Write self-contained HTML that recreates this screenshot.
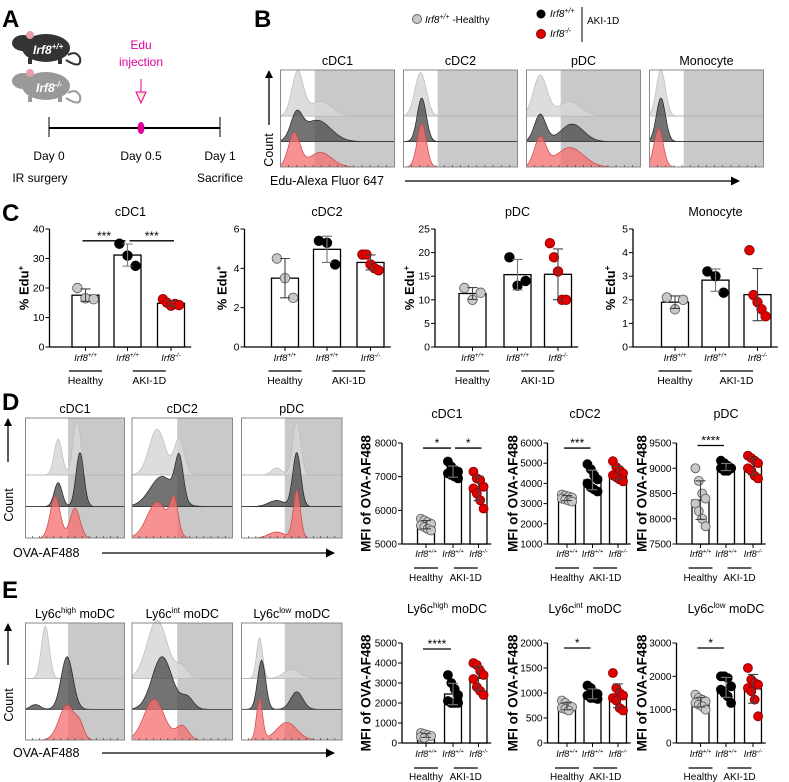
<!DOCTYPE html>
<html><head><meta charset="utf-8"><style>
html,body{margin:0;padding:0;background:#fff;}
svg{display:block;font-family:"Liberation Sans",Arial,sans-serif;}
</style></head><body>
<svg id="fig" width="789" height="782" viewBox="0 0 789 782" xmlns="http://www.w3.org/2000/svg">
<text x="2" y="27" font-size="24" font-weight="bold">A</text>
<text x="254" y="27" font-size="24" font-weight="bold">B</text>
<text x="2" y="221" font-size="24" font-weight="bold">C</text>
<text x="2" y="410" font-size="24" font-weight="bold">D</text>
<text x="2" y="598" font-size="24" font-weight="bold">E</text>

<g>
 <path d="M66,60 Q82,70 80,58 Q76,50 68,55" fill="none" stroke="#333" stroke-width="2"/>
 <ellipse cx="46" cy="48" rx="24" ry="14" fill="#333"/>
 <ellipse cx="23" cy="43" rx="11" ry="8" fill="#333"/>
 <ellipse cx="30" cy="35" rx="4" ry="4" fill="#e8a0a8"/>
 <rect x="28" y="58" width="4" height="6" fill="#333"/><rect x="58" y="58" width="4" height="6" fill="#333"/>
 <text x="33" y="54" font-size="12" fill="#fff" font-style="italic" font-weight="bold">Irf8<tspan font-size="8" dy="-5">+/+</tspan></text>
</g>
<g>
 <path d="M66,98 Q82,108 80,96 Q76,88 68,93" fill="none" stroke="#999" stroke-width="2"/>
 <ellipse cx="46" cy="86" rx="24" ry="14" fill="#999"/>
 <ellipse cx="23" cy="81" rx="11" ry="8" fill="#999"/>
 <ellipse cx="30" cy="73" rx="4" ry="4" fill="#e8a0a8"/>
 <rect x="28" y="96" width="4" height="6" fill="#999"/><rect x="58" y="96" width="4" height="6" fill="#999"/>
 <text x="36" y="92" font-size="12" fill="#fff" font-style="italic" font-weight="bold">Irf8<tspan font-size="8" dy="-5">-/-</tspan></text>
</g>
<text x="141" y="49" font-size="12" fill="#e0009a" text-anchor="middle">Edu</text>
<text x="141" y="66" font-size="12" fill="#e0009a" text-anchor="middle">injection</text>
<g>
 <line x1="141" y1="79" x2="141" y2="92" stroke="#e0009a" stroke-width="1"/>
 <polygon points="136,92 146,92 141,103" fill="#fde8d8" stroke="#e0009a" stroke-width="1"/>
</g>
<g>
 <line x1="49" y1="128" x2="220" y2="128" stroke="#000" stroke-width="2"/>
 <line x1="49" y1="117" x2="49" y2="137" stroke="#000" stroke-width="1"/>
 <line x1="220" y1="117" x2="220" y2="137" stroke="#000" stroke-width="1"/>
 <ellipse cx="141" cy="128" rx="3.5" ry="6" fill="#e0009a"/>
</g>
<text x="49" y="160" font-size="12" text-anchor="middle">Day 0</text>
<text x="141" y="160" font-size="12" text-anchor="middle">Day 0.5</text>
<text x="220" y="160" font-size="12" text-anchor="middle">Day 1</text>
<text x="40" y="182" font-size="12" text-anchor="middle">IR surgery</text>
<text x="220" y="182" font-size="12" text-anchor="middle">Sacrifice</text>

<g>
 <circle cx="417" cy="19" r="4.5" fill="#c8c8c8" stroke="#666"/>
 <text x="425" y="23" font-size="10"><tspan font-style="italic">Irf8<tspan font-size="7" dy="-4">+/+</tspan></tspan><tspan dy="4"> -Healthy</tspan></text>
 <circle cx="541" cy="14" r="4.5" fill="#000"/>
 <text x="550" y="17" font-size="10" font-style="italic">Irf8<tspan font-size="7" dy="-4">+/+</tspan></text>
 <circle cx="541" cy="34" r="4.5" fill="#e00000" stroke="#800"/>
 <text x="550" y="37" font-size="10" font-style="italic">Irf8<tspan font-size="7" dy="-4">-/-</tspan></text>
 <line x1="582" y1="7" x2="582" y2="42" stroke="#000"/>
 <text x="587" y="24" font-size="10">AKI-1D</text>
</g>
<g id="hists"></g>
<g id="bars"></g>
</svg>
<script>
var NS="http://www.w3.org/2000/svg";
var svg=document.getElementById('fig');
var HG=document.getElementById('hists'), BG=document.getElementById('bars');
var S=1.5;
function el(tag,attrs,parent,txt){var e=document.createElementNS(NS,tag);for(var k in attrs)e.setAttribute(k,attrs[k]);if(txt!=null)e.textContent=txt;(parent||svg).appendChild(e);return e;}

/* ---------------- Bar chart data ---------------- */
var groupNames=["Irf8+/+ Healthy","Irf8+/+ AKI-1D","Irf8-/- AKI-1D"];
var cCDC1H=[20,16.5,16.2], cCDC1W=[35,31,27.5], cCDC1K=[16.2,15,14,14.6,14.2];
var cCDC2H=[4.5,3.5,2.5], cCDC2W=[5.4,5.3,4.2], cCDC2K=[4.7,4.7,4.2,4.0,3.9];
var cPDCH=[12.5,10,11.5], cPDCW=[19,13,14], cPDCK=[22,19,16,10,10];
var cMonoH=[2.1,1.6,2.0], cMonoW=[3.2,3.0,2.3], cMonoK=[4.1,2.2,1.9,1.6,1.3];
var dCDC1H=[5750,5700,5650,5600,5550,5500,5450,5400], dCDC1W=[7450,7300,7200,7150,7100,7050,7000,6950], dCDC1K=[7150,6950,6900,6700,6650,6500,6300,6050];
var dCDC2H=[3450,3400,3350,3300,3250,3200,3150,3100], dCDC2W=[4950,4700,4400,4200,4000,3800,3700,3600], dCDC2K=[5100,4800,4650,4500,4400,4300,4200,4100];
var dPDCH=[9000,8750,8500,8400,8300,8150,8000,7850], dPDCW=[9150,9100,9050,9000,9000,8950,8950,9000], dPDCK=[9250,9200,9150,9100,9000,8950,8850,8800];
var eHighH=[500,450,400,350,300,250], eHighW=[3400,3000,2700,2400,2100,2000,2000,2000], eHighK=[4000,3900,3600,3400,3200,2800,2600,2400];
var eIntH=[850,800,750,720,700,680,650], eIntW=[1150,1100,1000,980,950,900,900,880], eIntK=[1400,1100,1000,950,900,850,700,650];
var eLowH=[1450,1350,1300,1250,1200,1150,1100,1000], eLowW=[2000,2000,1950,1700,1600,1500,1400,1200], eLowK=[2250,1900,1800,1750,1650,1550,1300,800];
var ticksC1=[0,10,20,30,40], ticksC2=[0,2,4,6], ticksC3=[0,5,10,15,20,25], ticksC4=[0,1,2,3,4,5];
var ticksD1=[5000,6000,7000,8000], ticksD2=[1000,2000,3000,4000,5000,6000], ticksD3=[7500,8000,8500,9000,9500];
var ticksE1=[0,1000,2000,3000,4000,5000], ticksE2=[0,500,1000,1500,2000], ticksE3=[0,1000,2000,3000];

var FILLS=["#c8c8c8","#000","#e00000"], STROKES=["#555","#000","#800"];
function mean(a){var s=0;a.forEach(function(v){s+=v});return s/a.length;}
function sd(a){var m=mean(a),s=0;a.forEach(function(v){s+=(v-m)*(v-m)});return Math.sqrt(s/(a.length-1));}

function irfLabel(g,x,y,sup,fs){
 var t=el('text',{x:x,y:y,'font-size':fs,'font-style':'italic','text-anchor':'middle'},g);
 
 
 el('tspan',{},t,'Irf8');el('tspan',{'font-size':fs*0.65,dy:-4},t,sup);
}

function barChart(c){
 c.ax*=S;c.cx=c.cx.map(function(v){return v*S;});c.bw*=S;c.titleX*=S;c.ylx*=S;c.ul*=S;
 var g=el('g',{},BG);
 
 
 var y=function(v){return c.bot-(v-c.min)/(c.max-c.min)*(c.bot-c.top);};
 el('line',{x1:c.ax,y1:c.top,x2:c.ax,y2:c.bot,stroke:'#000','stroke-width':1.3},g);
 el('line',{x1:c.ax,y1:c.bot,x2:c.cx[2]+c.bw*0.75,y2:c.bot,stroke:'#000','stroke-width':1.3},g);
 c.cx.forEach(function(cx){el('line',{x1:cx,y1:c.bot,x2:cx,y2:c.bot+4,stroke:'#000'},g);});
 c.ticks.forEach(function(t){
  el('line',{x1:c.ax-4,y1:y(t),x2:c.ax,y2:y(t),stroke:'#000'},g);
  var tl=el('text',{x:c.ax-5,y:y(t)+3.5,'font-size':c.tfs,'text-anchor':'end'},g,String(t));
  
  
 });
 var ti=el('text',{x:c.titleX,y:c.titleY,'font-size':12.5,'text-anchor':'middle'},g);
 
 
 el('tspan',{},ti,c.title[0]); if(c.title[1]){el('tspan',{'font-size':8,dy:-5},ti,c.title[1]);el('tspan',{dy:5},ti,c.title[2]);}
 var yl=el('text',{transform:'translate('+c.ylx+','+((c.top+c.bot)/2)+') rotate(-90)','font-size':c.ylfs,'font-weight':'bold','text-anchor':'middle'},g);
 
 
 if(c.edu){el('tspan',{},yl,'% Edu');el('tspan',{'font-size':8,dy:-5},yl,'+');} else yl.textContent='MFI of OVA-AF488';
 c.series.forEach(function(arr,i){
  var m=mean(arr),s=sd(arr),cx=c.cx[i];
  var b=el('rect',{x:cx-c.bw/2,y:y(m),width:c.bw,height:c.bot-y(m),fill:'#fff',stroke:'#000','stroke-width':1.3},g);
  
  
  var n=arr.length;
  arr.forEach(function(v,j){
   var off=n>1?(j/(n-1)-0.5)*c.bw*0.6:0;
   if(n>5) off=((j%4)/3-0.5)*c.bw*0.6;
   var p=el('circle',{cx:cx+off,cy:y(v),r:c.r,fill:FILLS[i],stroke:STROKES[i],'stroke-width':0.8},g);
   
   
  });
  var eb=el('path',{d:'M'+cx+','+y(m+s)+'V'+y(m-s)+'M'+(cx-5)+','+y(m+s)+'h10M'+(cx-5)+','+y(m-s)+'h10',stroke:i==1?'#777':'#444','stroke-width':1.1,fill:'none'},g);
  
  
 });
 var sups=['+/+','+/+','-/-'];
 c.cx.forEach(function(cx,i){irfLabel(g,cx,c.ly,sups[i],c.lfs);});
 el('line',{x1:c.cx[0]-c.ul,y1:c.uy,x2:c.cx[0]+c.ul,y2:c.uy,stroke:'#000','stroke-width':1.3},g);
 var mid=(c.cx[1]+c.cx[2])/2;
 el('line',{x1:mid-c.ul,y1:c.uy,x2:mid+c.ul,y2:c.uy,stroke:'#000','stroke-width':1.3},g);
 var h=el('text',{x:c.cx[0],y:c.gy,'font-size':c.lfs+1,'text-anchor':'middle'},g,'Healthy');
 
 
 var a=el('text',{x:mid,y:c.gy,'font-size':c.lfs+1,'text-anchor':'middle'},g,'AKI-1D');
 
 
 (c.sig||[]).forEach(function(sg){
  var x1=c.cx[sg[0]]-3,x2=c.cx[sg[1]]+3,yy=y(sg[2]);
  if(sg[0]>0)x1+=5; if(sg[1]<2)x2-=5;
  el('line',{x1:x1,y1:yy,x2:x2,y2:yy,stroke:'#000','stroke-width':1.3},g);
  var st=el('text',{x:(x1+x2)/2,y:yy-1,'font-size':12,'text-anchor':'middle'},g,sg[3]);
  
  
 });
}
var Cbase={top:229,bot:347,bw:18,r:4.8,tfs:10.5,ylfs:13,edu:true,ly:361,uy:371,gy:384,lfs:9.5,ul:11,titleY:216};
function ext(a,b){var o={};for(var k in a)o[k]=a[k];for(k in b)o[k]=b[k];return o;}
barChart(ext(Cbase,{name:'chart-c-cdc1',ax:33,cx:[57,85,114],min:0,max:40,ticks:ticksC1,series:[cCDC1H,cCDC1W,cCDC1K],title:['cDC1'],titleX:87,ylx:19,sig:[[0,1,36,'***'],[1,2,36,'***']]}));
barChart(ext(Cbase,{name:'chart-c-cdc2',ax:163,cx:[190,218,247],min:0,max:6,ticks:ticksC2,series:[cCDC2H,cCDC2W,cCDC2K],title:['cDC2'],titleX:218,ylx:151}));
barChart(ext(Cbase,{name:'chart-c-pdc',ax:290,cx:[315,345,372],min:0,max:25,ticks:ticksC3,series:[cPDCH,cPDCW,cPDCK],title:['pDC'],titleX:345,ylx:276}));
barChart(ext(Cbase,{name:'chart-c-monocyte',ax:422,cx:[450,477,505],min:0,max:5,ticks:ticksC4,series:[cMonoH,cMonoW,cMonoK],title:['Monocyte'],titleX:477,ylx:410}));
var Dbase={top:443,bot:544,bw:11.3,r:4.5,tfs:10,ylfs:13.5,edu:false,ly:557,uy:568,gy:581,lfs:9,ul:8,titleY:418};
barChart(ext(Dbase,{name:'chart-d-cdc1',ax:268,cx:[284,302,319],min:5000,max:8000,ticks:ticksD1,series:[dCDC1H,dCDC1W,dCDC1K],title:['cDC1'],titleX:298,ylx:247,sig:[[0,1,7850,'*'],[1,2,7850,'*']]}));
barChart(ext(Dbase,{name:'chart-d-cdc2',ax:365,cx:[378,395,412],min:1000,max:6000,ticks:ticksD2,series:[dCDC2H,dCDC2W,dCDC2K],title:['cDC2'],titleX:390,ylx:345,sig:[[0,1,5750,'***']]}));
barChart(ext(Dbase,{name:'chart-d-pdc',ax:451,cx:[467,484,502],min:7500,max:9500,ticks:ticksD3,series:[dPDCH,dPDCW,dPDCK],title:['pDC'],titleX:484,ylx:431,sig:[[0,1,9450,'****']]}));
var Ebase={top:643,bot:743,bw:11.3,r:4.5,tfs:10,ylfs:13.5,edu:false,ly:757,uy:768,gy:780,lfs:9,ul:8,titleY:613};
barChart(ext(Ebase,{name:'chart-e-ly6c-high',ax:268,cx:[284,302,319],min:0,max:5000,ticks:ticksE1,series:[eHighH,eHighW,eHighK],title:['Ly6c','high',' moDC'],titleX:298,ylx:247,sig:[[0,1,4700,'****']]}));
barChart(ext(Ebase,{name:'chart-e-ly6c-int',ax:365,cx:[378,395,412],min:0,max:2000,ticks:ticksE2,series:[eIntH,eIntW,eIntK],title:['Ly6c','int',' moDC'],titleX:390,ylx:345,sig:[[0,1,1900,'*']]}));
barChart(ext(Ebase,{name:'chart-e-ly6c-low',ax:451,cx:[467,484,502],min:0,max:3000,ticks:ticksE3,series:[eLowH,eLowW,eLowK],title:['Ly6c','low',' moDC'],titleX:484,ylx:431,sig:[[0,1,2850,'*']]}));

/* ---------------- Histograms ---------------- */
function hist(p){
 p.x0*=S;p.x1*=S;
 var g=el('g',{},HG);
 
 
 var h=p.y1-p.y0, rh=h*0.25;
 el('rect',{x:p.x0,y:p.y0,width:p.x1-p.x0,height:h,fill:'#fff'},g);
 var gx=p.x0+(p.x1-p.x0)*p.gate;
 el('rect',{x:gx,y:p.y0,width:p.x1-gx,height:h,fill:'#c9c9c9'},g);
 var bases=[p.y1-2*rh*1.05,p.y1-rh*1.05,p.y1];
 var cols=[['rgba(215,215,215,0.85)','#bbb'],['rgba(80,80,80,0.8)','#222'],['rgba(245,110,110,0.75)','#c44']];
 [0,1].forEach(function(i){el('line',{x1:p.x0,y1:bases[i],x2:p.x1,y2:bases[i],stroke:'#999','stroke-width':0.8},g);});
 p.rows.forEach(function(comps,i){
  var d='M'+p.x0+','+bases[i], N=90;
  for(var k=0;k<=N;k++){var f=k/N,v=0;comps.forEach(function(c){v+=c[2]*Math.exp(-Math.pow((f-c[0])/c[1],2)/2);});
   d+='L'+(p.x0+f*(p.x1-p.x0)).toFixed(1)+','+(bases[i]-v*h).toFixed(1);}
  d+='L'+p.x1+','+bases[i]+'Z';
  var pa=el('path',{d:d,fill:cols[i][0],stroke:cols[i][1],'stroke-width':0.7},g);
  
  
 });
 el('rect',{x:p.x0,y:p.y0,width:p.x1-p.x0,height:h,fill:'none',stroke:'#888','stroke-width':1},g);
 for(var k=1;k<14;k++){var tx=p.x0+k*(p.x1-p.x0)/14;el('line',{x1:tx,y1:p.y1,x2:tx,y2:p.y1-2,stroke:'#333','stroke-width':0.6},g);}
 var t=el('text',{x:(p.x0+p.x1)/2,y:p.y0-5,'font-size':12.5,'text-anchor':'middle'},g);
 
 
 el('tspan',{},t,p.title[0]); if(p.title[1]){el('tspan',{'font-size':8,dy:-5},t,p.title[1]);el('tspan',{dy:5},t,p.title[2]);}
}
hist({name:'hist-b-cdc1',x0:187,x1:263,y0:70,y1:167,gate:0.3,title:['cDC1'],rows:[[[0.15,0.05,0.45],[0.35,0.1,0.15]],[[0.14,0.05,0.25],[0.32,0.12,0.22]],[[0.12,0.05,0.35],[0.35,0.1,0.15]]]});
hist({name:'hist-b-cdc2',x0:269,x1:345,y0:70,y1:167,gate:0.3,title:['cDC2'],rows:[[[0.15,0.05,0.45]],[[0.16,0.04,0.45]],[[0.16,0.04,0.45]]]});
hist({name:'hist-b-pdc',x0:351,x1:427,y0:70,y1:167,gate:0.3,title:['pDC'],rows:[[[0.12,0.06,0.42],[0.38,0.1,0.15]],[[0.12,0.05,0.28],[0.4,0.1,0.18]],[[0.12,0.05,0.3],[0.38,0.12,0.2]]]});
hist({name:'hist-b-monocyte',x0:433,x1:509,y0:70,y1:167,gate:0.3,title:['Monocyte'],rows:[[[0.1,0.04,0.48]],[[0.1,0.04,0.45]],[[0.08,0.04,0.4]]]});
hist({name:'hist-d-cdc1',x0:17,x1:83,y0:418,y1:538,gate:0.43,title:['cDC1'],rows:[[[0.33,0.04,0.3],[0.52,0.04,0.45]],[[0.33,0.04,0.2],[0.55,0.04,0.45]],[[0.3,0.05,0.35],[0.5,0.05,0.25]]]});
hist({name:'hist-d-cdc2',x0:88,x1:155,y0:418,y1:538,gate:0.45,title:['cDC2'],rows:[[[0.25,0.08,0.38],[0.47,0.05,0.3]],[[0.3,0.12,0.25],[0.47,0.04,0.35]],[[0.25,0.1,0.3],[0.42,0.04,0.28]]]});
hist({name:'hist-d-pdc',x0:161,x1:228,y0:418,y1:538,gate:0.43,title:['pDC'],rows:[[[0.55,0.04,0.45],[0.35,0.05,0.06]],[[0.55,0.04,0.45],[0.35,0.08,0.05]],[[0.55,0.035,0.4],[0.35,0.08,0.05]]]});
hist({name:'hist-e-ly6c-high',x0:17,x1:83,y0:623,y1:740,gate:0.43,title:['Ly6c','high',' moDC'],rows:[[[0.2,0.04,0.45]],[[0.42,0.06,0.45],[0.1,0.05,0.04]],[[0.42,0.08,0.3],[0.55,0.04,0.1]]]});
hist({name:'hist-e-ly6c-int',x0:88,x1:155,y0:623,y1:740,gate:0.45,title:['Ly6c','int',' moDC'],rows:[[[0.25,0.1,0.5],[0.5,0.06,0.1]],[[0.3,0.1,0.45],[0.55,0.06,0.1]],[[0.22,0.1,0.35],[0.5,0.06,0.12]]]});
hist({name:'hist-e-ly6c-low',x0:161,x1:228,y0:623,y1:740,gate:0.43,title:['Ly6c','low',' moDC'],rows:[[[0.18,0.03,0.35],[0.5,0.08,0.08]],[[0.2,0.04,0.42],[0.55,0.06,0.15]],[[0.18,0.03,0.35],[0.45,0.1,0.15]]]});

function arrowV(x,y1,y2,name){var g=el('g',{},HG);
 el('line',{x1:x,y1:y1,x2:x,y2:y2+6,stroke:'#000','stroke-width':1.3},g);el('polygon',{points:(x-4)+','+(y2+8)+' '+(x+4)+','+(y2+8)+' '+x+','+y2,fill:'#000'},g);}
function arrowH(x1,x2,y,name){var g=el('g',{},HG);
 el('line',{x1:x1,y1:y,x2:x2-6,y2:y,stroke:'#000','stroke-width':1.3},g);el('polygon',{points:(x2-9)+','+(y-4.5)+' '+(x2-9)+','+(y+4.5)+' '+x2+','+y,fill:'#000'},g);}
function label(x,y,txt,name,rot){var t=el('text',{x:x,y:y,'font-size':12.5,'text-anchor':rot?'middle':'start',transform:rot?'rotate(-90 '+x+' '+y+')':''},HG,txt);
 }
arrowV(269,125,70,'count-axis-arrow-b'); label(273,150,'Count','count-label-b',true);
arrowH(405,740,181,'x-axis-arrow-b'); label(270,185,'Edu-Alexa Fluor 647','x-axis-title-b');
arrowV(8,462,418,'count-axis-arrow-d'); label(13,505,'Count','count-label-d',true);
arrowH(102,335,553,'x-axis-arrow-d'); label(13,557,'OVA-AF488','x-axis-title-d');
arrowV(8,665,623,'count-axis-arrow-e'); label(13,705,'Count','count-label-e',true);
arrowH(102,335,753,'x-axis-arrow-e'); label(13,757,'OVA-AF488','x-axis-title-e');
</script>
</body></html>
